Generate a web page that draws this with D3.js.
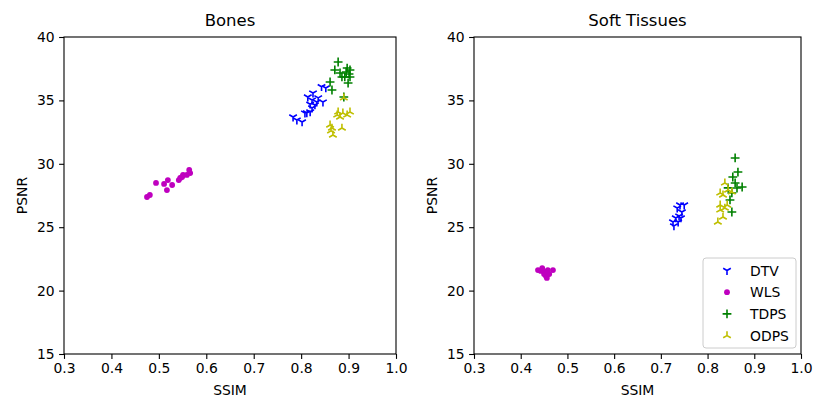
<!DOCTYPE html>
<html>
<head>
<meta charset="utf-8">
<script src="https://cdn.jsdelivr.net/npm/d3@7"></script>
<style>
  body { margin: 0; background: #fff; }
  text { font-family: "DejaVu Sans", sans-serif; fill: #000; }
  .axis path, .axis line { stroke: #000; stroke-width: 1.1; }
  .axis text { font-size: 13.9px; }
</style>
</head>
<body>
<svg id="chart" width="830" height="415"></svg>
<script>
// ---- data ----
const seriesNames = ["DTV", "WLS", "TDPS", "ODPS"];
const xTicks = [0.3, 0.4, 0.5, 0.6, 0.7, 0.8, 0.9, 1.0];
const yTicks = [15, 20, 25, 30, 35, 40];

// Bones
const bonesDTV = [[0.843,36.08],[0.825,35.58],[0.814,35.27],[0.823,35.03],[0.833,34.87],[0.846,34.87],
  [0.829,34.64],[0.823,34.40],[0.819,34.09],[0.812,34.01],[0.802,33.30],[0.783,33.69],[0.791,33.45],
  [0.808,34.0],[0.836,35.2],[0.819,34.7],[0.852,35.98]];
const bonesWLS = [[0.475,27.38],[0.481,27.54],[0.494,28.49],[0.511,28.41],[0.519,28.72],[0.528,28.33],
  [0.517,27.93],[0.542,28.72],[0.545,28.88],[0.551,29.12],[0.564,29.51],[0.566,29.27],[0.559,29.12],[0.549,28.96]];
const bonesTDPS = [[0.878,38.03],[0.871,37.40],[0.882,37.16],[0.897,37.55],[0.903,37.40],[0.892,36.85],
  [0.903,36.85],[0.899,36.37],[0.861,36.45],[0.865,35.82],[0.886,36.85],[0.890,35.27],[0.895,37.24],[0.901,37.08]];
const bonesODPS = [[0.878,34.09],[0.888,34.01],[0.897,33.85],[0.882,33.69],[0.876,33.85],[0.861,33.06],
  [0.865,32.82],[0.867,32.27],[0.886,32.82],[0.890,35.2],[0.903,34.09],[0.863,32.6]];

// Soft tissues
const softDTV = [[0.741,26.75],[0.750,26.75],[0.735,26.51],[0.745,26.2],[0.739,25.88],[0.732,25.73],
  [0.726,25.41],[0.728,25.1],[0.737,25.41],[0.743,25.73]];
const softWLS = [[0.437,21.62],[0.446,21.78],[0.452,21.47],[0.454,21.15],[0.461,21.31],[0.458,21.62],
  [0.469,21.62],[0.450,21.31],[0.456,21.0],[0.443,21.55]];
const softTDPS = [[0.859,30.46],[0.865,29.35],[0.854,28.96],[0.859,28.49],[0.874,28.17],[0.863,28.09],
  [0.852,27.70],[0.848,27.15],[0.852,26.2],[0.844,28.1]];
const softODPS = [[0.837,28.49],[0.844,27.93],[0.827,27.70],[0.833,27.54],[0.852,27.78],[0.827,26.75],
  [0.837,26.51],[0.827,26.36],[0.833,25.80],[0.822,25.41],[0.842,26.75]];

const colors = {DTV: "#0000ff", WLS: "#bf00bf", TDPS: "#008000", ODPS: "#bfbf00"};

const panels = [
  {title: "Bones", left: 64, right: 396, series: [bonesDTV, bonesWLS, bonesTDPS, bonesODPS], legend: false},
  {title: "Soft Tissues", left: 474, right: 801, series: [softDTV, softWLS, softTDPS, softODPS], legend: true}
];

const svg = d3.select("#chart");
const plotTop = 37, plotBottom = 354;

// marker path drawn around (0,0)
function markerPath(name, s) {
  const a = s * Math.cos(Math.PI / 6), b = s * 0.5;
  if (name === "DTV") return `M0,0L0,${s}M0,0L${-a},${-b}M0,0L${a},${-b}`;   // tri_down
  if (name === "ODPS") return `M0,0L0,${-s}M0,0L${-a},${b}M0,0L${a},${b}`;   // tri_up
  return `M${-s},0L${s},0M0,${-s}L0,${s}`;                                    // plus
}

function drawMarker(g, name, x, y) {
  if (name === "WLS") {
    g.append("circle").attr("cx", x).attr("cy", y).attr("r", 2.9)
      .attr("fill", colors[name]);
  } else {
    g.append("path").attr("transform", `translate(${x},${y})`)
      .attr("d", markerPath(name, 4.4))
      .attr("fill", "none").attr("stroke", colors[name]).attr("stroke-width", 1.6);
  }
}

panels.forEach(p => {
  const x = d3.scaleLinear().domain([0.3, 1.0]).range([p.left, p.right]);
  const y = d3.scaleLinear().domain([15, 40]).range([plotBottom, plotTop]);

  const g = svg.append("g");

  // points
  const pts = g.append("g");
  p.series.forEach((data, i) => {
    const name = seriesNames[i];
    data.forEach(d => drawMarker(pts, name, x(d[0]), y(d[1])));
  });

  // frame
  g.append("rect").attr("x", p.left).attr("y", plotTop)
    .attr("width", p.right - p.left).attr("height", plotBottom - plotTop)
    .attr("fill", "none").attr("stroke", "#000").attr("stroke-width", 1.1);

  g.append("g").attr("class", "axis")
    .attr("transform", `translate(0,${plotBottom})`)
    .call(d3.axisBottom(x).tickValues(xTicks).tickFormat(d3.format(".1f")).tickSize(4.9).tickPadding(4.5))
    .call(a => a.select(".domain").remove());

  g.append("g").attr("class", "axis")
    .attr("transform", `translate(${p.left},0)`)
    .call(d3.axisLeft(y).tickValues(yTicks).tickSize(4.9).tickPadding(4.5))
    .call(a => a.select(".domain").remove());

  g.append("text").attr("x", (p.left + p.right) / 2).attr("y", 26)
    .attr("text-anchor", "middle").style("font-size", "16.5px").text(p.title);

  g.append("text").attr("x", (p.left + p.right) / 2).attr("y", 395)
    .attr("text-anchor", "middle").style("font-size", "13.9px").text("SSIM");

  g.append("text").attr("transform", `translate(${p.left - 37},${(plotTop + plotBottom) / 2}) rotate(-90)`)
    .attr("text-anchor", "middle").style("font-size", "13.9px").text("PSNR");

  if (p.legend) {
    const lg = g.append("g").attr("transform", "translate(703,258)");
    lg.append("rect").attr("width", 93).attr("height", 90).attr("rx", 3)
      .attr("fill", "#fff").attr("fill-opacity", 0.8)
      .attr("stroke", "#cccccc").attr("stroke-width", 1);
    seriesNames.forEach((name, i) => {
      const cy = 12.5 + i * 21.7;
      drawMarker(lg, name, 24, cy);
      lg.append("text").attr("x", 47).attr("y", cy + 5)
        .style("font-size", "13.9px").text(name);
    });
  }
});
</script>
</body>
</html>
